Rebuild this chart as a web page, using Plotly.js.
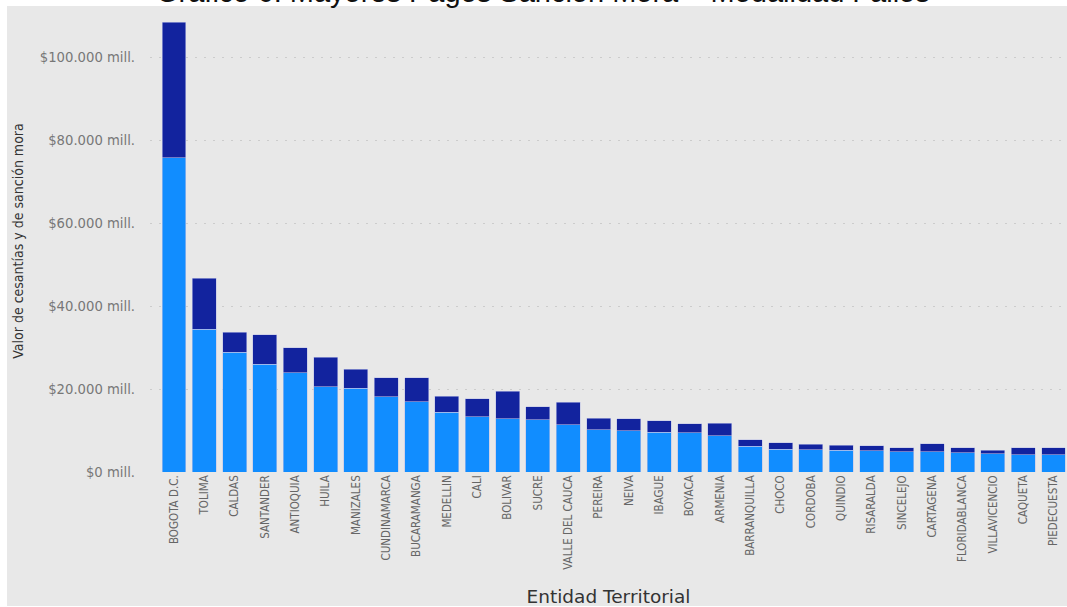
<!DOCTYPE html>
<html>
<head>
<meta charset="utf-8">
<script src="https://cdn.plot.ly/plotly-3.0.1.min.js"></script>
<style>
html,body{margin:0;padding:0;background:#fff;}
#chart{width:1067px;height:607px;}
#chart .xtick text, #chart .ytitle{font-stretch:condensed;}
</style>
</head>
<body>
<div id="chart"></div>
<script>
const categories = ['BOGOTA D.C.','TOLIMA','CALDAS','SANTANDER','ANTIOQUIA','HUILA','MANIZALES','CUNDINAMARCA','BUCARAMANGA','MEDELLIN','CALI','BOLIVAR','SUCRE','VALLE DEL CAUCA','PEREIRA','NEIVA','IBAGUE','BOYACA','ARMENIA','BARRANQUILLA','CHOCO','CORDOBA','QUINDIO','RISARALDA','SINCELEJO','CARTAGENA','FLORIDABLANCA','VILLAVICENCIO','CAQUETA','PIEDECUESTA'];
// millions of pesos
const cesantias = [75700,34400,28900,26000,23900,20600,20200,18100,16900,14400,13300,12800,12600,11400,10200,10000,9600,9400,8750,6200,5500,5400,5300,5100,4900,4900,4650,4400,4200,4200];
const sancionMora = [32700,12300,4800,7100,6100,7100,4600,4600,5800,3800,4300,6700,3100,5400,2700,2800,2700,2200,2950,1600,1600,1300,1100,1200,1000,1900,1150,900,1700,1600];
const titleText = 'Gráfico 6. Mayores Pagos Sanción Mora – Modalidad Fallos';
const yTitle = 'Valor de cesantías y de sanción mora';
const xTitle = 'Entidad Territorial';

const narrow = '"DejaVu Sans Condensed", "DejaVu Sans", sans-serif';

const traces = [
  {type:'bar', name:'Cesantías', x:categories, y:cesantias,
   marker:{color:'#118DFF', line:{color:'rgba(190,195,230,0.7)', width:0.8}}},
  {type:'bar', name:'Sanción mora', x:categories, y:sancionMora,
   marker:{color:'#12239E', line:{color:'rgba(190,195,230,0.7)', width:0.8}}}
];

const layout = {
  width:1067, height:607,
  barmode:'stack', bargap:0.21,
  showlegend:false,
  separators:',.',
  paper_bgcolor:'#ffffff',
  plot_bgcolor:'rgba(0,0,0,0)',
  margin:{l:150, r:0, t:10, b:135},
  xaxis:{
    type:'category', range:[-0.791, 29.445],
    tickangle:-90, showgrid:false, zeroline:false, showline:false,
    tickfont:{family:narrow, size:11.5, color:'#666'},
    ticks:'', automargin:false,
    title:{text:xTitle, font:{family:'"DejaVu Sans", sans-serif', size:18.5, color:'#333'}, standoff:40}
  },
  yaxis:{
    range:[0, 111325], dtick:20000, tickformat:',d', tickprefix:'$', ticksuffix:' mill.',
    showgrid:true, gridcolor:'#cccccc', griddash:'2px,7px', gridwidth:1,
    zeroline:false, showline:false, ticks:'', ticklabelstandoff:14,
    tickfont:{family:'"DejaVu Sans", sans-serif', size:13.2, color:'#777'},
    automargin:false,
    title:{text:yTitle, font:{family:narrow, size:14, color:'#333'}, standoff:12}
  },
  shapes:[
    {type:'rect', xref:'paper', yref:'paper', layer:'below',
     x0:(7-150)/917, x1:1, y0:(472-606)/462, y1:(472-6)/462,
     fillcolor:'#e8e8e8', line:{width:0}}
  ],
  annotations:[
    {text:titleText, xref:'paper', yref:'paper', x:(543-150)/917, y:(472-10)/462,
     xanchor:'center', yanchor:'bottom', showarrow:false,
     font:{family:'Arial, "Liberation Sans", sans-serif', size:29, color:'#111'}}
  ]
};

Plotly.newPlot('chart', traces, layout, {displayModeBar:false, staticPlot:true});
</script>
</body>
</html>
